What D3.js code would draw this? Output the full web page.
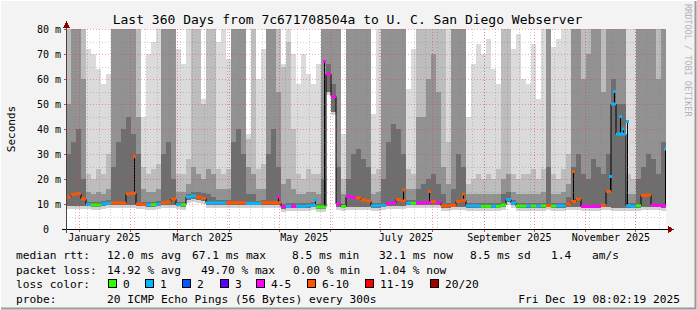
<!DOCTYPE html>
<html>
<head>
<meta charset="utf-8">
<script src="https://cdn.jsdelivr.net/npm/d3@7"></script>
<style>
  body { margin: 0; background: #f3f3f3; }
  svg { display: block; }
  text { font-family: "DejaVu Sans Mono", monospace; }
</style>
</head>
<body>
<svg id="chart"></svg>
<script>
// 120 bins of 3 days each, from Dec 24 2024 08:02 to Dec 19 2025 08:02
let medianRtt = [
  12.8,13.8,14.2,12.0,9.8,9.6,9.6,10.0,10.3,10.4,
  10.5,10.4,14.0,14.3,10.0,9.8,9.7,9.7,9.9,10.5,
  10.8,12.0,9.8,9.7,12.8,13.2,12.8,12.3,10.4,10.4,
  10.4,10.4,10.5,10.5,10.5,10.5,10.2,10.2,10.2,10.5,
  10.5,10.5,10.5,8.9,9.1,9.0,9.2,9.1,9.3,9.5,
  8.8,8.8,62,53,10.0,9.0,13.0,12.6,12.5,11.6,
  11.2,9.3,9.3,9.5,10.2,10.5,11.8,11.2,10.3,10.3,
  10.4,10.4,10.6,11.0,10.6,9.3,9.3,9.5,11.0,11.5,
  9.3,9.3,9.2,9.1,9.1,9.2,9.1,9.6,11.8,10.3,
  9.2,9.2,9.3,9.2,9.2,9.3,9.4,9.2,9.3,9.3,
  10.0,11.0,12.0,9.0,9.0,9.0,9.1,9.5,15.0,50,
  38,38,9.3,9.1,9.3,13.4,13.6,9.6,9.5,9.3
];
// index into lossColors
let lossIdx = [
  5,5,5,5,1,0,0,1,1,5,
  5,5,5,5,5,5,1,0,1,5,
  5,5,1,0,1,1,5,5,1,1,
  1,1,5,5,5,5,1,1,1,5,
  5,5,5,4,1,4,1,1,1,1,
  0,0,4,4,4,0,4,4,5,5,
  5,1,1,1,4,4,5,5,1,0,
  4,4,4,5,4,5,5,5,5,5,
  1,1,1,0,0,1,0,0,1,1,
  0,0,1,0,1,0,5,0,1,1,
  5,5,5,4,4,4,4,5,5,1,
  1,1,1,1,0,5,5,4,4,4
];
// smoke: lower edge and band tops (ms)
let smokeLow = [
  9.4,9.4,9.4,9.3,9.1,8.9,8.9,9.3,9.6,9.7,
  9.8,9.7,9.5,9.5,9.3,9.1,9.0,9.0,9.2,9.6,
  9.6,9.6,9.1,9.0,11.6,12.0,11.6,11.2,9.7,9.7,
  9.7,9.7,9.8,9.6,9.6,9.6,9.5,9.5,9.5,9.6,
  9.6,9.6,9.6,8.2,8.4,8.4,8.5,8.4,8.6,8.8,
  8.1,8.1,55,47,9.0,8.3,9.0,9.0,9.0,9.0,
  9.0,8.6,8.6,8.8,9.2,9.2,9.2,9.2,9.6,9.6,
  9.6,9.6,9.6,9.6,9.6,8.6,8.6,8.8,9.0,9.0,
  8.6,8.6,8.5,8.4,8.4,8.5,8.4,8.9,11.0,9.6,
  8.5,8.5,8.6,8.5,8.5,8.6,8.7,8.5,8.6,8.6,
  9.0,9.0,9.0,8.3,8.3,8.3,8.4,8.8,9.0,8.6,
  8.6,8.6,8.6,8.4,8.6,9.0,9.0,8.9,8.8,8.6
];
let smokeQ1 = [
  30,35,40,20,11,10.8,10.8,11.2,11.5,25,
  35,40,45,38,30,11,10.9,10.9,11.1,30,
  35,20,11,10.9,14,15,15,14.5,14,13,
  11.6,11.6,11.7,35,40,30,14,14,11.4,11.7,
  30,40,25,10.1,10.3,10.3,10.4,10.3,10.5,10.7,
  10,20,66,58,25,10.2,20,30,32,28,
  25,10.5,10.5,20,35,42,40,30,11.5,11.5,
  16,18,20,22,18,14,10.5,16,30,25,
  10.5,10.5,10.4,10.3,10.3,10.4,10.3,14,15,11.5,
  10.4,10.4,10.5,10.4,10.4,10.5,25,10.4,10.5,10.5,
  13,25,30,22,20,28,25,22,30,60,
  50,50,10.5,10.3,20,25,30,28,22,35
];
let smokeQ2 = [
  50,81,81,60,15,14,15,14,16,81,
  81,81,81,81,45,16,15,15,16,81,
  81,81,15,15,18,25,22,20,24,22,
  16,16,16,81,81,81,25,22,16,16,
  81,81,55,18,20,16,14,14,15,15,
  14,81,81,81,81,14,81,81,81,81,
  81,14,15,81,81,81,81,81,16,16,
  45,45,60,70,55,25,18,81,81,81,
  14,14,14,14,14,14,14,20,22,15,
  14,14,14,14,14,15,81,14,14,15,
  18,81,81,60,70,81,81,55,81,81,
  81,81,14,14,81,81,81,81,60,81
];
let smokeQ3 = [
  81,81,81,81,22,20,24,22,30,81,
  81,81,81,81,81,25,22,24,26,81,
  81,81,22,22,28,81,81,50,81,81,
  24,22,24,81,81,81,36,81,24,26,
  81,81,81,65,75,40,22,20,24,22,
  22,81,81,81,81,20,81,81,81,81,
  81,22,24,81,81,81,81,81,24,22,
  81,81,81,81,81,81,35,81,81,81,
  18,20,22,20,22,20,24,81,81,22,
  20,22,22,24,20,24,81,22,20,24,
  30,81,81,81,81,81,81,81,81,81,
  81,81,22,20,81,81,81,81,81,81
];
let smokeTop = [
  81,81,81,81,72,70,64,58,62,81,
  81,81,81,81,81,45,70,75,81,81,
  81,81,72,66,81,81,81,52,81,81,
  75,81,68,81,81,81,38,81,60,72,
  81,81,81,66,81,70,58,70,62,58,
  66,81,81,81,81,38,81,81,81,81,
  81,46,81,81,81,81,81,81,56,72,
  81,81,81,81,81,81,81,81,81,81,
  45,66,74,70,76,64,58,81,81,72,
  78,60,58,74,52,81,81,73,76,81,
  81,81,81,81,81,81,81,81,81,81,
  81,81,81,81,81,81,81,81,81,81
];
// single outlier readings (day offset from start)
let spikeDay  = [40.8, 127.2, 149.4, 154.8, 202.2, 217.8, 238.2, 304.2, 326.4, 328.8, 332.4, 334.2, 336.6, 359.4];
let spikeRtt  = [29, 12.8, 11.6, 67, 15.6, 15, 14, 23, 21, 55, 45, 40, 43, 32];
let spikeLoss = [5, 4, 1, 4, 5, 5, 5, 5, 1, 1, 1, 1, 1, 1];

let yTicks = [0, 10, 20, 30, 40, 50, 60, 70, 80];
let xLabelMonths = ['2025-01', '2025-03', '2025-05', '2025-07', '2025-09', '2025-11'];

let lossLabels = ['0', '1', '2', '3', '4-5', '6-10', '11-19', '20/20'];
let lossColors = ['#26ff00', '#00b8ff', '#0059ff', '#5e00ff', '#ff00ff', '#ff5500', '#ff0000', '#a10000'];

let width = 697;
let height = 310;
let plotLeft = 66, plotRight = 666, plotTop = 29, plotBottom = 229;

let start = new Date(Date.UTC(2024, 11, 24, 8, 2, 19));
let end = new Date(Date.UTC(2025, 11, 19, 8, 2, 19));

let svg = d3.select('#chart').attr('width', width).attr('height', height);

let x = d3.scaleUtc().domain([start, end]).range([plotLeft, plotRight]);
let y = d3.scaleLinear().domain([0, 80]).range([plotBottom, plotTop]);

// frame
svg.append('rect').attr('width', width).attr('height', height).attr('fill', '#f3f3f3');
svg.append('path').attr('d', `M0.5,${height} V0.5 H${width}`).attr('stroke', '#ffffff').attr('fill', 'none');
svg.append('path').attr('d', `M1,${height - 1.5} H${width - 1.5} V1`).attr('stroke', '#9a9a9a').attr('stroke-width', 2).attr('fill', 'none');

svg.append('rect')
  .attr('x', plotLeft).attr('y', plotTop)
  .attr('width', plotRight - plotLeft).attr('height', plotBottom - plotTop)
  .attr('fill', '#ffffff');

svg.append('clipPath').attr('id', 'plotclip')
  .append('rect')
  .attr('x', plotLeft).attr('y', plotTop)
  .attr('width', plotRight - plotLeft).attr('height', plotBottom - plotTop);

let bins = medianRtt.map((m, i) => ({
  t0: d3.utcDay.offset(start, 3 * i),
  t1: d3.utcDay.offset(start, 3 * (i + 1)),
  median: m,
  loss: lossIdx[i],
  low: smokeLow[i], q1: smokeQ1[i], q2: smokeQ2[i], q3: smokeQ3[i], top: smokeTop[i]
}));

let plot = svg.append('g').attr('clip-path', 'url(#plotclip)');

// smoke bands
let bands = [
  { lo: d => d.low - 1.2, hi: d => d.low, color: '#d2d2d2' },
  { lo: d => d.low, hi: d => d.q1, color: '#6e6e6e' },
  { lo: d => d.q1, hi: d => d.q2, color: '#929292' },
  { lo: d => d.q2, hi: d => d.q3, color: '#bdbdbd' },
  { lo: d => d.q3, hi: d => d.top, color: '#dbdbdb' }
];
bands.forEach(b => {
  plot.append('g').selectAll('rect')
    .data(bins.filter(d => b.hi(d) > b.lo(d)))
    .enter()
    .append('rect')
    .attr('x', d => x(d.t0))
    .attr('width', d => x(d.t1) - x(d.t0))
    .attr('y', d => y(b.hi(d)))
    .attr('height', d => y(b.lo(d)) - y(b.hi(d)))
    .attr('fill', b.color)
    .attr('shape-rendering', 'crispEdges');
});

// grid
let grid = svg.append('g').attr('shape-rendering', 'crispEdges');
let minorY = d3.range(5, 80, 10);
grid.selectAll('.hminor').data(minorY).enter().append('line')
  .attr('x1', plotLeft).attr('x2', plotRight)
  .attr('y1', d => y(d) + 0.5).attr('y2', d => y(d) + 0.5)
  .attr('stroke', 'rgba(120,120,120,0.35)').attr('stroke-dasharray', '1,2');
let weeks = d3.utcMonday.range(start, end);
grid.selectAll('.vminor').data(weeks).enter().append('line')
  .attr('x1', d => Math.round(x(d)) + 0.5).attr('x2', d => Math.round(x(d)) + 0.5)
  .attr('y1', plotTop).attr('y2', plotBottom)
  .attr('stroke', 'rgba(120,120,120,0.35)').attr('stroke-dasharray', '1,2');
grid.selectAll('.hmajor').data(yTicks.slice(1)).enter().append('line')
  .attr('x1', plotLeft).attr('x2', plotRight)
  .attr('y1', d => y(d) + 0.5).attr('y2', d => y(d) + 0.5)
  .attr('stroke', 'rgba(235,50,50,0.4)').attr('stroke-dasharray', '1,2');
let months = d3.utcMonth.range(start, end);
grid.selectAll('.vmajor').data(months).enter().append('line')
  .attr('x1', d => Math.round(x(d)) + 0.5).attr('x2', d => Math.round(x(d)) + 0.5)
  .attr('y1', plotTop).attr('y2', plotBottom)
  .attr('stroke', 'rgba(235,50,50,0.5)').attr('stroke-dasharray', '1,2');

// median: black steps with loss coloured segments
let stepPts = bins.map(d => [d.t0, d.median]).concat([[end, medianRtt[medianRtt.length - 1]]]);
plot.append('path')
  .datum(stepPts)
  .attr('d', d3.line().x(d => x(d[0])).y(d => y(d[1])).curve(d3.curveStepAfter))
  .attr('fill', 'none').attr('stroke', '#000').attr('stroke-width', 1);

let spikes = spikeDay.map((dd, i) => {
  let t = new Date(+start + dd * 864e5);
  let bin = bins[Math.min(bins.length - 1, Math.floor(dd / 3))];
  return { t: t, base: bin.median, rtt: spikeRtt[i], loss: spikeLoss[i] };
});
plot.selectAll('.spike').data(spikes).enter().append('line')
  .attr('x1', d => Math.round(x(d.t)) + 0.5).attr('x2', d => Math.round(x(d.t)) + 0.5)
  .attr('y1', d => y(d.base)).attr('y2', d => y(d.rtt))
  .attr('stroke', '#000').attr('stroke-width', 1);

plot.selectAll('.seg').data(bins).enter().append('rect')
  .attr('x', d => x(d.t0))
  .attr('width', d => x(d.t1) - x(d.t0))
  .attr('y', d => y(d.median) - 1.5)
  .attr('height', 3)
  .attr('fill', d => lossColors[d.loss]);

plot.selectAll('.dot').data(spikes).enter().append('rect')
  .attr('x', d => Math.round(x(d.t)) - 1)
  .attr('y', d => y(d.rtt) - 1.5)
  .attr('width', 3).attr('height', 3)
  .attr('fill', d => lossColors[d.loss]);

// axes lines and ticks
let axes = svg.append('g').attr('shape-rendering', 'crispEdges');
axes.append('line').attr('x1', plotLeft - 4).attr('x2', plotRight + 4)
  .attr('y1', plotBottom + 0.5).attr('y2', plotBottom + 0.5).attr('stroke', '#000');
axes.append('line').attr('x1', plotLeft + 0.5).attr('x2', plotLeft + 0.5)
  .attr('y1', plotBottom + 4).attr('y2', plotTop - 6).attr('stroke', '#444');
axes.append('path').attr('d', `M${plotRight + 2},${plotBottom - 3} L${plotRight + 8},${plotBottom + 0.5} L${plotRight + 2},${plotBottom + 4} Z`).attr('fill', '#8b0000');
axes.append('path').attr('d', `M${plotLeft - 3},${plotTop - 1} L${plotLeft + 0.5},${plotTop - 8} L${plotLeft + 4},${plotTop - 1} Z`).attr('fill', '#8b0000');

axes.selectAll('.xt').data(months).enter().append('line')
  .attr('x1', d => Math.round(x(d)) + 0.5).attr('x2', d => Math.round(x(d)) + 0.5)
  .attr('y1', plotBottom + 1).attr('y2', plotBottom + 3).attr('stroke', '#e04040');
axes.selectAll('.yt').data(yTicks.slice(1)).enter().append('line')
  .attr('x1', plotLeft - 2).attr('x2', plotLeft)
  .attr('y1', d => y(d) + 0.5).attr('y2', d => y(d) + 0.5).attr('stroke', '#e04040');

// y axis labels
let yAxis = d3.axisLeft(y).tickValues(yTicks).tickSize(0).tickPadding(0)
  .tickFormat(d => d === 0 ? '0\u00a0\u00a0' : d + ' m');
svg.append('g').attr('transform', `translate(${plotLeft - 5},0)`).call(yAxis)
  .call(g => g.select('.domain').remove())
  .selectAll('text').attr('font-size', '10px').attr('fill', '#000')
  .attr('font-family', '"DejaVu Sans Mono", monospace');

// x axis labels, centred mid-month as rrdtool does
let labelDates = xLabelMonths.map(s => d3.utcDay.offset(d3.utcParse('%Y-%m')(s), 15));
let xAxis = d3.axisBottom(x).tickValues(labelDates).tickSize(0).tickPadding(5)
  .tickFormat(d3.utcFormat('%B %Y'));
svg.append('g').attr('transform', `translate(0,${plotBottom})`).call(xAxis)
  .call(g => g.select('.domain').remove())
  .selectAll('text').attr('font-size', '10px').attr('fill', '#000')
  .attr('font-family', '"DejaVu Sans Mono", monospace');

// title, y label, watermark
svg.append('text').attr('x', 347.5).attr('y', 24).attr('text-anchor', 'middle')
  .attr('font-size', '13px').attr('fill', '#000')
  .text('Last 360 Days from 7c671708504a to U. C. San Diego Webserver');
svg.append('text').attr('transform', 'translate(15,129) rotate(-90)').attr('text-anchor', 'middle')
  .attr('font-size', '11px').attr('fill', '#000').text('Seconds');
svg.append('text').attr('transform', 'translate(685,4) rotate(90)')
  .attr('font-size', '8.5px').attr('fill', '#b4b4b4').text('RRDTOOL / TOBI OETIKER');

// legend
let legendRows = [
  [[16, 'median rtt:'], [107, '12.0 ms avg'], [192, '67.1 ms max'], [292, '8.5 ms min'], [379, '32.1 ms now'], [470, '8.5 ms sd'], [551, '1.4'], [592, 'am/s']],
  [[16, 'packet loss:'], [107, '14.92 % avg'], [201, '49.70 % max'], [293, '0.00 % min'], [379, '1.04 % now']],
  [[16, 'loss color:']],
  [[16, 'probe:'], [107, '20 ICMP Echo Pings (56 Bytes) every 300s']]
];
let rowY = [259, 273.5, 288, 302.5];
let legend = svg.append('g').attr('font-size', '11.2px').attr('fill', '#000');
legendRows.forEach((row, r) => {
  row.forEach(([lx, s]) => {
    legend.append('text').attr('x', lx).attr('y', rowY[r]).text(s);
  });
});
legend.append('text').attr('x', 680).attr('y', rowY[3]).attr('text-anchor', 'end').text('Fri Dec 19 08:02:19 2025');

let boxX = [108, 145, 182, 220, 256, 307, 365, 430];
lossLabels.forEach((lab, i) => {
  legend.append('rect').attr('x', boxX[i] + 0.5).attr('y', rowY[2] - 8.5)
    .attr('width', 8).attr('height', 8)
    .attr('fill', lossColors[i]).attr('stroke', '#000').attr('stroke-width', 1);
  legend.append('text').attr('x', boxX[i] + 15).attr('y', rowY[2]).text(lab);
});
</script>
</body>
</html>
